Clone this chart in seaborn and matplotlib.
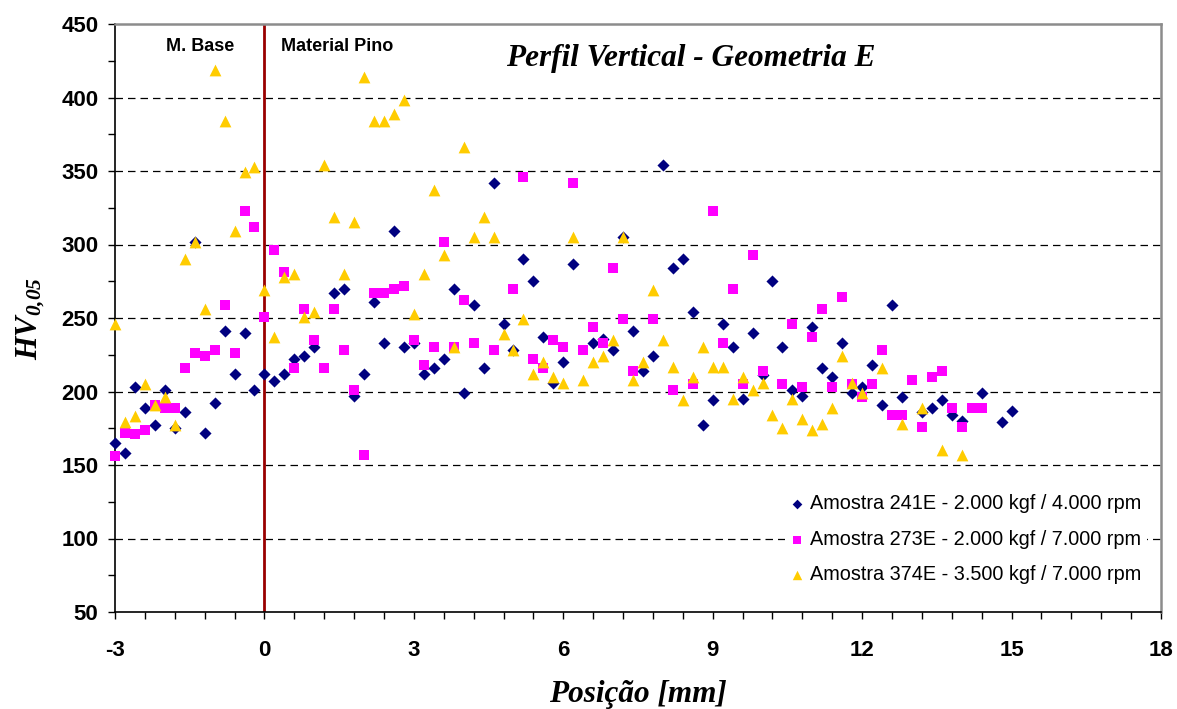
import numpy as np
import pandas as pd
import matplotlib
matplotlib.use("Agg")
import matplotlib.pyplot as plt
from matplotlib.ticker import MultipleLocator
import seaborn as sns

# Measurement positions along the vertical profile [mm]
positions = [
    -3.0, -2.8, -2.6, -2.4, -2.2, -2.0, -1.8, -1.6, -1.4, -1.2, -1.0, -0.8, -0.6, -0.4, -0.2,
    0.0, 0.2, 0.4, 0.6, 0.8, 1.0, 1.2, 1.4, 1.6, 1.8, 2.0, 2.2, 2.4, 2.6, 2.8,
    3.0, 3.2, 3.4, 3.6, 3.8, 4.0, 4.2, 4.4, 4.6, 4.8, 5.0, 5.2, 5.4, 5.6, 5.8,
    6.0, 6.2, 6.4, 6.6, 6.8, 7.0, 7.2, 7.4, 7.6, 7.8, 8.0, 8.2, 8.4, 8.6, 8.8,
    9.0, 9.2, 9.4, 9.6, 9.8, 10.0, 10.2, 10.4, 10.6, 10.8, 11.0, 11.2, 11.4, 11.6, 11.8,
    12.0, 12.2, 12.4, 12.6, 12.8, 13.0, 13.2, 13.4, 13.6, 13.8, 14.0, 14.2, 14.4, 14.6, 14.8, 15.0,
]

# Vickers hardness HV0,05 for each sample (None = no reading)
hv_241e = [
    165, 158, 203, 189, 177, 201, 175, 186, 302, 172, 192, 241, 212, 240, 201,
    212, 207, 212, 222, 224, 230, None, 267, 270, 197, 212, 261, 233, 309, 230,
    233, 212, 216, 222, 270, 199, 259, 216, 342, 246, 228, 290, 275, 237, 206,
    220, 287, None, 233, 236, 228, 305, 241, 214, 224, 354, 284, 290, 254, 177,
    194, 246, 230, 195, 240, 211, 275, 230, 201, 197, 244, 216, 210, 233, 199,
    203, 218, 191, 259, 196, None, 186, 189, 194, 184, 180, None, 199, None, 179, 187,
]
hv_273e = [
    156, 172, 171, 174, 191, 189, 189, 216, 226, 224, 228, 259, 226, 323, 312,
    251, 296, 281, 216, 256, 235, 216, 256, 228, 201, 157, 267, 267, 270, 272,
    235, 218, 230, 302, 230, 262, 233, None, 228, None, 270, 346, 222, 216, 235,
    230, 342, 228, 244, 233, 284, 249, 214, None, 249, None, 201, None, 205, None,
    323, 233, 270, 205, 293, 214, None, 205, 246, 203, 237, 256, 203, 264, 205,
    196, 205, 228, 184, 184, 208, 176, 210, 214, 189, 176, 189, 189, None, None, None,
]
hv_374e = [
    246, 179, 183, 205, 191, 196, 177, 290, 302, 256, 419, 384, 309, 349, 353,
    269, 237, 278, 280, 251, 254, 354, 319, 280, 315, 414, 384, 384, 389, 398,
    253, 280, 337, 293, 230, 366, 305, 319, 305, 239, 228, 249, 212, 220, 210,
    206, 305, 208, 220, 224, 235, 305, 208, 220, 269, 235, 217, 194, 210, 230,
    217, 217, 195, 210, 201, 206, 184, 175, 195, 181, 174, 178, 189, 224, 206,
    199, None, 216, None, 178, None, 189, None, 160, None, 157, None, None, None, None, None,
]

series_labels = [
    "Amostra 241E - 2.000 kgf / 4.000 rpm",
    "Amostra 273E - 2.000 kgf / 7.000 rpm",
    "Amostra 374E - 3.500 kgf / 7.000 rpm",
]
x_ticks = [-3, 0, 3, 6, 9, 12, 15, 18]
y_ticks = [50, 100, 150, 200, 250, 300, 350, 400, 450]

sns.set_style("white")
plt.rcParams["font.family"] = ["Liberation Sans", "DejaVu Sans"]
plt.rcParams["axes.unicode_minus"] = False
for key in ["text.color", "axes.labelcolor", "xtick.color", "ytick.color"]:
    plt.rcParams[key] = "black"
plt.rcParams["mathtext.fontset"] = "custom"
plt.rcParams["mathtext.rm"] = "Liberation Serif:italic:bold"
plt.rcParams["mathtext.it"] = "Liberation Serif:italic:bold"
plt.rcParams["mathtext.bf"] = "Liberation Serif:italic:bold"

colors = ["#000080", "#FF00FF", "#FFCC00"]
markers = ["D", "s", "^"]
sizes = [38, 58, 72]

fig = plt.figure(figsize=(11.77, 7.09), dpi=100)
ax = fig.add_axes([115 / 1177, 97 / 709, 1046 / 1177, 588 / 709])

for label, vals, col, mk, sz in zip(series_labels, [hv_241e, hv_273e, hv_374e],
                                    colors, markers, sizes):
    df = pd.DataFrame({"pos": positions, "hv": vals}).dropna()
    sns.scatterplot(data=df, x="pos", y="hv", color=col, marker=mk, s=sz,
                    linewidth=0, ax=ax, label=label, zorder=3, clip_on=False)

# Boundary between base material and pin material
ax.axvline(0, color="#990000", lw=2, zorder=2)

# Horizontal dashed grid
for yv in y_ticks[1:-1]:
    ax.axhline(yv, color="black", lw=0.9, ls=(0, (6, 4)), zorder=1)

ax.set_xlim(-3, 18)
ax.set_ylim(50, 450)
ax.set_xticks(x_ticks)
ax.set_yticks(y_ticks)
ax.xaxis.set_minor_locator(MultipleLocator(0.6))
ax.yaxis.set_minor_locator(MultipleLocator(25))
ax.tick_params(axis="both", which="both", direction="out", length=5, width=1,
               color="black", labelcolor="black", labelsize=16,
               bottom=True, left=True, top=False, right=False)
ax.tick_params(axis="x", which="both", pad=15)
ax.tick_params(axis="y", which="both", pad=7)
for t in ax.get_xticklabels() + ax.get_yticklabels():
    t.set_fontweight("bold")

for side in ["left", "bottom"]:
    ax.spines[side].set_color("black")
    ax.spines[side].set_linewidth(1.2)
for side in ["top", "right"]:
    ax.spines[side].set_color("#8c8c8c")
    ax.spines[side].set_linewidth(1.8)

ax.set_xlabel("Posição [mm]", fontsize=22.5, fontweight="bold", fontstyle="italic",
              family=["Liberation Serif", "DejaVu Serif"], labelpad=14)
ax.set_ylabel(r"$HV_{0{,}05}$", fontsize=22, labelpad=10)

ax.text(0.55, 0.942, "Perfil Vertical - Geometria E", transform=ax.transAxes,
        ha="center", va="center", fontsize=22.5, fontweight="bold", fontstyle="italic",
        family=["Liberation Serif", "DejaVu Serif"])
ax.text(0.081, 0.961, "M. Base", transform=ax.transAxes, ha="center", va="center",
        fontsize=13, fontweight="bold")
ax.text(0.159, 0.961, "Material Pino", transform=ax.transAxes, ha="left", va="center",
        fontsize=13, fontweight="bold")

leg = ax.legend(loc="lower right", bbox_to_anchor=(1032 / 1046, 22 / 588),
                frameon=True, facecolor="white", edgecolor="none", framealpha=1,
                fontsize=14.3, markerscale=0.8, handlelength=0.6,
                handletextpad=0.35, labelspacing=0.82, borderaxespad=0,
                borderpad=0.3)
leg.set_zorder(4)

fig.savefig("out.png", dpi=100)
